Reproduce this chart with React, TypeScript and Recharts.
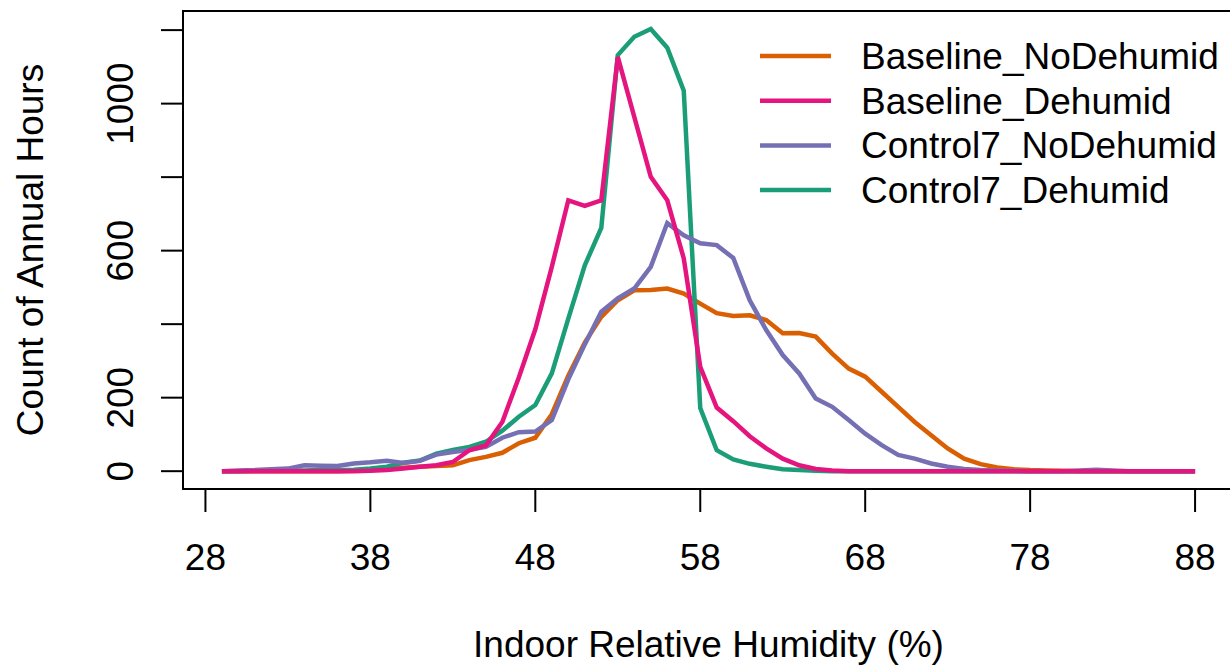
import { Customized, Line, LineChart, ReferenceArea, XAxis, YAxis } from "recharts";

// Indoor relative humidity bins (%), one point per integer bin
const humidity = [
  29, 30, 31, 32, 33, 34, 35, 36, 37, 38, 39, 40, 41, 42, 43, 44, 45, 46, 47, 48,
  49, 50, 51, 52, 53, 54, 55, 56, 57, 58, 59, 60, 61, 62, 63, 64, 65, 66, 67, 68,
  69, 70, 71, 72, 73, 74, 75, 76, 77, 78, 79, 80, 81, 82, 83, 84, 85, 86, 87, 88,
];

const baselineNoDehumid = [
  0, 0, 0, 0, 0, 0, 0, 0, 1, 3, 5, 9, 12, 14, 16, 30, 39, 50, 76, 91,
  155, 260, 350, 420, 465, 492, 493, 497, 483, 456, 430, 422, 424, 411, 375, 376, 366, 320, 279, 257,
  216, 175, 134, 98, 62, 34, 19, 10, 5, 3, 2, 1, 0, 0, 0, 0, 0, 0, 0, 0,
];

const baselineDehumid = [
  0, 0, 0, 0, 0, 0, 0, 0, 0, 1, 3, 7, 12, 16, 25, 57, 70, 134, 255, 386,
  556, 737, 722, 737, 1127, 964, 801, 737, 579, 284, 173, 136, 95, 62, 34, 16, 6, 2, 0, 0,
  0, 0, 0, 0, 0, 0, 0, 0, 0, 0, 0, 0, 0, 0, 0, 0, 0, 0, 0, 0,
];

const control7NoDehumid = [
  0, 2, 3, 5, 7, 16, 15, 14, 21, 24, 28, 22, 28, 45, 52, 58, 66, 91, 106, 108,
  139, 250, 345, 434, 470, 497, 556, 675, 642, 620, 615, 580, 465, 384, 316, 266, 198, 175, 139, 102,
  71, 44, 34, 21, 12, 6, 3, 2, 1, 0, 0, 0, 2, 4, 2, 0, 0, 0, 0, 0,
];

const control7Dehumid = [
  0, 0, 1, 1, 2, 2, 3, 3, 4, 7, 12, 23, 29, 48, 58, 66, 80, 110, 148, 180,
  266, 415, 560, 662, 1132, 1182, 1203, 1152, 1035, 172, 57, 32, 20, 12, 5, 3, 1, 0, 0, 0,
  0, 0, 0, 0, 0, 0, 0, 0, 0, 0, 0, 0, 0, 0, 0, 0, 0, 0, 0, 0,
];

const xTicks = [28, 38, 48, 58, 68, 78, 88];
const yTicks = [0, 200, 400, 600, 800, 1000, 1200];
const yLabelled = [0, 200, 600, 1000];

const series = [
  { key: "Baseline_NoDehumid", color: "#D95F02" },
  { key: "Baseline_Dehumid", color: "#E4157F" },
  { key: "Control7_NoDehumid", color: "#7570B3" },
  { key: "Control7_Dehumid", color: "#1B9E77" },
];

const data = humidity.map((rh, i) => ({
  rh,
  Baseline_NoDehumid: baselineNoDehumid[i],
  Baseline_Dehumid: baselineDehumid[i],
  Control7_NoDehumid: control7NoDehumid[i],
  Control7_Dehumid: control7Dehumid[i],
}));

// R-style 4% padding around the data range
const X_DOMAIN: [number, number] = [26.64, 90.36];
const Y_DOMAIN: [number, number] = [-48.5, 1252];

const FONT = '"Liberation Sans", Arial, Helvetica, sans-serif';
const FS = 37;

const colorOf = (k: string) => series.find((s) => s.key === k)!.color;

function XTick({ x, y, payload }: any) {
  return (
    <text x={x} y={y + 58} textAnchor="middle" fontSize={FS} fontFamily={FONT} fill="#000">
      {payload.value}
    </text>
  );
}

function YTick({ x, y, payload }: any) {
  if (!yLabelled.includes(payload.value)) return <g />;
  const bx = x - 26;
  return (
    <text
      x={bx}
      y={y}
      transform={`rotate(-90, ${bx}, ${y})`}
      textAnchor="middle"
      fontSize={FS}
      fontFamily={FONT}
      fill="#000"
    >
      {payload.value}
    </text>
  );
}

function LegendBox() {
  const left = 760;
  const top = 56;
  const step = 44.7;
  return (
    <g>
      {series.map((s, i) => (
        <g key={s.key}>
          <line
            x1={left}
            x2={left + 71}
            y1={top + i * step}
            y2={top + i * step}
            stroke={s.color}
            strokeWidth={4.5}
          />
          <text
            x={left + 101}
            y={top + i * step + 13}
            fontSize={FS}
            fontFamily={FONT}
            fill="#000"
          >
            {s.key}
          </text>
        </g>
      ))}
    </g>
  );
}

export default function App() {
  // draw order: orange, green, purple, pink on top
  const drawOrder = ["Baseline_NoDehumid", "Control7_Dehumid", "Control7_NoDehumid", "Baseline_Dehumid"];

  return (
    <div
      style={{
        position: "absolute",
        left: 0,
        top: 0,
        width: 1230,
        height: 665,
        overflow: "hidden",
        background: "#fff",
      }}
    >
      <LineChart width={1240} height={665} data={data} margin={{ top: 11, right: 6, bottom: 0, left: 0 }}>
        <XAxis
          dataKey="rh"
          type="number"
          domain={X_DOMAIN}
          ticks={xTicks}
          allowDataOverflow
          axisLine={false}
          tickLine={{ stroke: "#000", strokeWidth: 2 }}
          tickSize={23}
          tickMargin={0}
          height={176}
          tick={<XTick />}
          label={{
            content: ({ viewBox }: any) => (
              <text
                x={viewBox.x + viewBox.width / 2}
                y={viewBox.y + 168}
                textAnchor="middle"
                fontSize={FS}
                fontFamily={FONT}
                fill="#000"
              >
                Indoor Relative Humidity (%)
              </text>
            ),
          }}
        />
        <YAxis
          type="number"
          domain={Y_DOMAIN}
          ticks={yTicks}
          allowDataOverflow
          axisLine={false}
          tickLine={{ stroke: "#000", strokeWidth: 2 }}
          tickSize={22}
          tickMargin={2}
          width={183}
          tick={<YTick />}
          label={{
            content: ({ viewBox }: any) => {
              const cx = viewBox.x + 43;
              const cy = viewBox.y + viewBox.height / 2;
              return (
                <text
                  x={cx}
                  y={cy}
                  transform={`rotate(-90, ${cx}, ${cy})`}
                  textAnchor="middle"
                  fontSize={FS}
                  fontFamily={FONT}
                  fill="#000"
                >
                  Count of Annual Hours
                </text>
              );
            },
          }}
        />
        <ReferenceArea
          x1={X_DOMAIN[0]}
          x2={X_DOMAIN[1]}
          y1={Y_DOMAIN[0]}
          y2={Y_DOMAIN[1]}
          fill="none"
          stroke="#000"
          strokeWidth={2}
          fillOpacity={0}
        />
        {drawOrder.map((k) => (
          <Line
            key={k}
            type="linear"
            dataKey={k}
            stroke={colorOf(k)}
            strokeWidth={4.5}
            dot={false}
            activeDot={false}
            isAnimationActive={false}
          />
        ))}
        <Customized component={LegendBox} />
      </LineChart>
    </div>
  );
}
